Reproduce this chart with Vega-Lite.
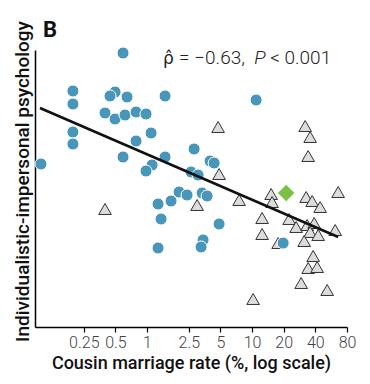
{
  "$schema": "https://vega.github.io/schema/vega-lite/v6.json",
  "width": 312,
  "height": 277,
  "autosize": {"type": "none"},
  "padding": {"left": 35, "top": 50, "right": 23, "bottom": 57},
  "background": "white",
  "config": {"view": {"stroke": null}},
  "datasets": {
    "circles": [
      {"x": 0.591, "y": 1.37}, {"x": 0.197, "y": 0.99}, {"x": 0.197, "y": 0.86}, {"x": 0.496, "y": 0.98},
      {"x": 0.444, "y": 0.94}, {"x": 0.645, "y": 0.93}, {"x": 1.484, "y": 0.94}, {"x": 10.92, "y": 0.90},
      {"x": 0.398, "y": 0.77}, {"x": 0.496, "y": 0.71}, {"x": 0.617, "y": 0.75}, {"x": 0.786, "y": 0.78},
      {"x": 0.978, "y": 0.76}, {"x": 0.197, "y": 0.58}, {"x": 0.197, "y": 0.46}, {"x": 0.0978, "y": 0.26},
      {"x": 1.092, "y": 0.57}, {"x": 0.786, "y": 0.49}, {"x": 0.591, "y": 0.33}, {"x": 1.484, "y": 0.33},
      {"x": 1.116, "y": 0.25}, {"x": 0.978, "y": 0.19}, {"x": 2.804, "y": 0.41}, {"x": 3.981, "y": 0.29},
      {"x": 4.35, "y": 0.27}, {"x": 2.624, "y": 0.18}, {"x": 3.06, "y": 0.15}, {"x": 2.018, "y": -0.02},
      {"x": 2.404, "y": -0.05}, {"x": 1.692, "y": -0.11}, {"x": 1.273, "y": -0.14}, {"x": 3.342, "y": -0.03},
      {"x": 3.728, "y": -0.06}, {"x": 1.359, "y": -0.29}, {"x": 4.85, "y": -0.34}, {"x": 3.415, "y": -0.50},
      {"x": 1.273, "y": -0.58}, {"x": 3.268, "y": -0.57}, {"x": 19.74, "y": -0.53}
    ],
    "triangles": [
      {"x": 4.745, "y": 0.63}, {"x": 31.97, "y": 0.64}, {"x": 35.67, "y": 0.53}, {"x": 34.15, "y": 0.34},
      {"x": 4.85, "y": 0.16}, {"x": 0.398, "y": -0.19}, {"x": 2.995, "y": -0.15}, {"x": 7.52, "y": -0.10},
      {"x": 15.17, "y": -0.04}, {"x": 15.5, "y": -0.12}, {"x": 32.68, "y": -0.07}, {"x": 37.27, "y": -0.11},
      {"x": 44.42, "y": -0.17}, {"x": 65.9, "y": -0.02}, {"x": 12.45, "y": -0.28}, {"x": 22.51, "y": -0.29},
      {"x": 26.24, "y": -0.37}, {"x": 33.4, "y": -0.35}, {"x": 38.95, "y": -0.33}, {"x": 35.67, "y": -0.42},
      {"x": 42.52, "y": -0.45}, {"x": 61.73, "y": -0.40}, {"x": 12.45, "y": -0.44}, {"x": 17.69, "y": -0.53},
      {"x": 31.27, "y": -0.51}, {"x": 38.1, "y": -0.66}, {"x": 34.15, "y": -0.78}, {"x": 41.59, "y": -0.77},
      {"x": 29.29, "y": -0.93}, {"x": 51.8, "y": -1.00}, {"x": 10.22, "y": -1.09}
    ],
    "diamond": [{"x": 21.08, "y": -0.03}],
    "fit": [{"x": 0.0957, "y": 0.82}, {"x": 65.9, "y": -0.47}],
    "panel": [{"x": 0.102, "y": 1.53, "t": "B"}],
    "rho": [{"x": 1.42, "y": 1.26, "t": "ρ̂"}],
    "notePlain": [{"x": 2.018, "y": 1.26, "t": "= −0.63,"}, {"x": 14.84, "y": 1.26, "t": "< 0.001"}],
    "noteItalic": [{"x": 10.45, "y": 1.26, "t": "P"}]
  },
  "encoding": {
    "x": {
      "field": "x", "type": "quantitative",
      "scale": {"type": "log", "domain": [0.0858, 80], "nice": false},
      "axis": {
        "values": [0.25, 0.5, 1, 2.5, 5, 10, 20, 40, 80], "format": "~g",
        "title": "Cousin marriage rate (%, log scale)", "grid": false,
        "domainColor": "#000", "domainWidth": 1.5, "tickColor": "#000", "tickSize": 5, "tickWidth": 1.2,
        "labelFont": "Roboto", "labelFontWeight": 300, "labelFontSize": 16, "labelColor": "#444",
        "labelPadding": 2, "labelFlush": false, "labelOverlap": false,
        "titleFont": "Roboto", "titleFontWeight": 500, "titleFontSize": 18, "titleColor": "#111", "titlePadding": 4
      }
    },
    "y": {
      "field": "y", "type": "quantitative",
      "scale": {"domain": [-1.37, 1.40], "nice": false, "zero": false},
      "axis": {
        "title": "Individualistic-impersonal psychology", "ticks": false, "labels": false, "grid": false,
        "domainColor": "#000", "domainWidth": 1.5,
        "titleFont": "Roboto", "titleFontWeight": 500, "titleFontSize": 19, "titleColor": "#111", "titlePadding": 3,
        "titleY": 131
      }
    }
  },
  "layer": [
    {"data": {"name": "triangles"}, "mark": {"type": "point", "shape": "triangle-up", "filled": true, "fill": "#dcdcdc", "stroke": "#333", "strokeWidth": 1, "size": 160, "opacity": 1}},
    {"data": {"name": "circles"}, "mark": {"type": "circle", "fill": "#4896ba", "stroke": "white", "strokeWidth": 1, "size": 145, "opacity": 1}},
    {"data": {"name": "diamond"}, "mark": {"type": "point", "shape": "diamond", "filled": true, "fill": "#7cc043", "stroke": "white", "strokeWidth": 0.5, "size": 290, "opacity": 1}},
    {"data": {"name": "fit"}, "mark": {"type": "line", "color": "#111", "strokeWidth": 2.5}},
    {"data": {"name": "panel"}, "mark": {"type": "text", "align": "left", "baseline": "alphabetic", "font": "Roboto", "fontWeight": "bold", "fontSize": 22, "color": "#111", "clip": false}, "encoding": {"text": {"field": "t"}}},
    {"data": {"name": "rho"}, "mark": {"type": "text", "align": "left", "baseline": "alphabetic", "font": "DejaVu Sans", "fontWeight": "normal", "fontSize": 17, "color": "#222"}, "encoding": {"text": {"field": "t"}}},
    {"data": {"name": "notePlain"}, "mark": {"type": "text", "align": "left", "baseline": "alphabetic", "font": "Roboto", "fontWeight": 300, "fontSize": 19, "color": "#222"}, "encoding": {"text": {"field": "t"}}},
    {"data": {"name": "noteItalic"}, "mark": {"type": "text", "align": "left", "baseline": "alphabetic", "font": "Roboto", "fontWeight": 300, "fontStyle": "italic", "fontSize": 19, "color": "#222"}, "encoding": {"text": {"field": "t"}}}
  ]
}
